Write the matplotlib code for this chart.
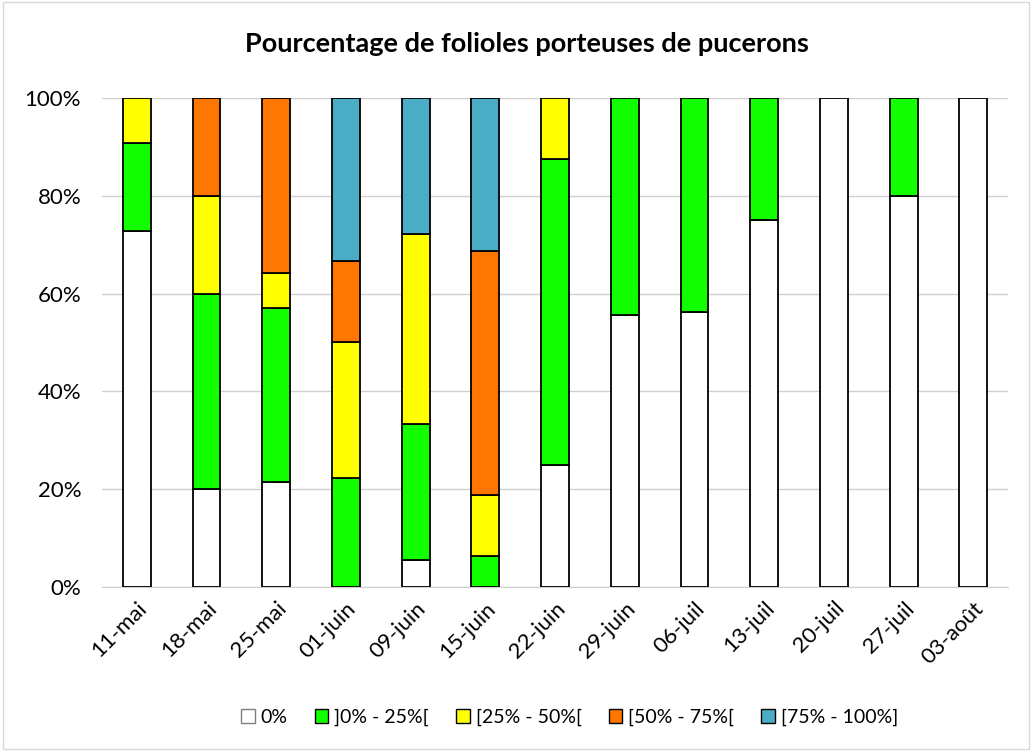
import matplotlib.pyplot as plt
from matplotlib.patches import Patch
import numpy as np

plt.rcParams['font.family'] = ['Lato', 'DejaVu Sans']

dates = ['11-mai', '18-mai', '25-mai', '01-juin', '09-juin', '15-juin', '22-juin',
         '29-juin', '06-juil', '13-juil', '20-juil', '27-juil', '03-août']

# percent of leaflets per class
zero =     [72.7, 20.0, 21.4, 0.0, 5.6, 0.0, 25.0, 55.6, 56.25, 75.0, 100.0, 80.0, 100.0]
c0_25 =    [18.2, 40.0, 35.7, 22.2, 27.7, 6.25, 62.5, 44.4, 43.75, 25.0, 0.0, 20.0, 0.0]
c25_50 =   [9.1, 20.0, 7.2, 27.8, 38.9, 12.5, 12.5, 0.0, 0.0, 0.0, 0.0, 0.0, 0.0]
c50_75 =   [0.0, 20.0, 35.7, 16.7, 0.0, 50.0, 0.0, 0.0, 0.0, 0.0, 0.0, 0.0, 0.0]
c75_100 =  [0.0, 0.0, 0.0, 33.3, 27.8, 31.25, 0.0, 0.0, 0.0, 0.0, 0.0, 0.0, 0.0]

series = [zero, c0_25, c25_50, c50_75, c75_100]
labels = ['0%', ']0% - 25%[', '[25% - 50%[', '[50% - 75%[', '[75% - 100%]']
colors = ['#FFFFFF', '#12FF00', '#FFFF00', '#FF7700', '#4BACC6']

fig = plt.figure(figsize=(10.32, 7.51), dpi=100)
ax = fig.add_axes([0.0988, 0.2184, 0.8782, 0.6511])

x = np.arange(len(dates))
bottom = np.zeros(len(dates))
handles = []
for vals, lab, col in zip(series, labels, colors):
    vals = np.array(vals)
    mask = vals > 0
    ax.bar(x[mask], vals[mask], 0.4, bottom=bottom[mask], color=col,
           edgecolor='black', linewidth=1.3, zorder=3)
    ec = '#7F7F7F' if col == '#FFFFFF' else 'black'
    handles.append(Patch(facecolor=col, edgecolor=ec, linewidth=1, label=lab))
    bottom += vals

ax.set_xlim(-0.5, len(dates) - 0.5)
ax.set_ylim(0, 100)
ax.set_yticks(np.arange(0, 101, 20))
ax.set_yticklabels(['%d%%' % v for v in range(0, 101, 20)], fontsize=16)
ax.set_xticks(x)
ax.set_xticklabels(dates, rotation=45, ha='right', rotation_mode='anchor', fontsize=16)
ax.tick_params(axis='x', length=0, pad=8)
ax.tick_params(axis='y', length=0, pad=15)
ax.yaxis.grid(True, color='#D0D0D0', linewidth=1, zorder=0)
for s in ['top', 'right', 'left']:
    ax.spines[s].set_visible(False)
ax.spines['bottom'].set_color('#D0D0D0')

fig.suptitle('Pourcentage de folioles porteuses de pucerons', fontsize=19.5,
             fontweight='bold', x=0.511, y=0.957)

fig.legend(handles=handles, loc='center', bbox_to_anchor=(0.552, 0.045), ncol=5,
           frameon=False, fontsize=14, handlelength=0.7, handleheight=0.7,
           columnspacing=1.4, handletextpad=0.3)

fig.patches.append(plt.Rectangle((0.003, 0.003), 0.994, 0.994, transform=fig.transFigure,
                                 fill=False, edgecolor='#D9D9D9', linewidth=1))

fig.savefig('out.png', dpi=100)
